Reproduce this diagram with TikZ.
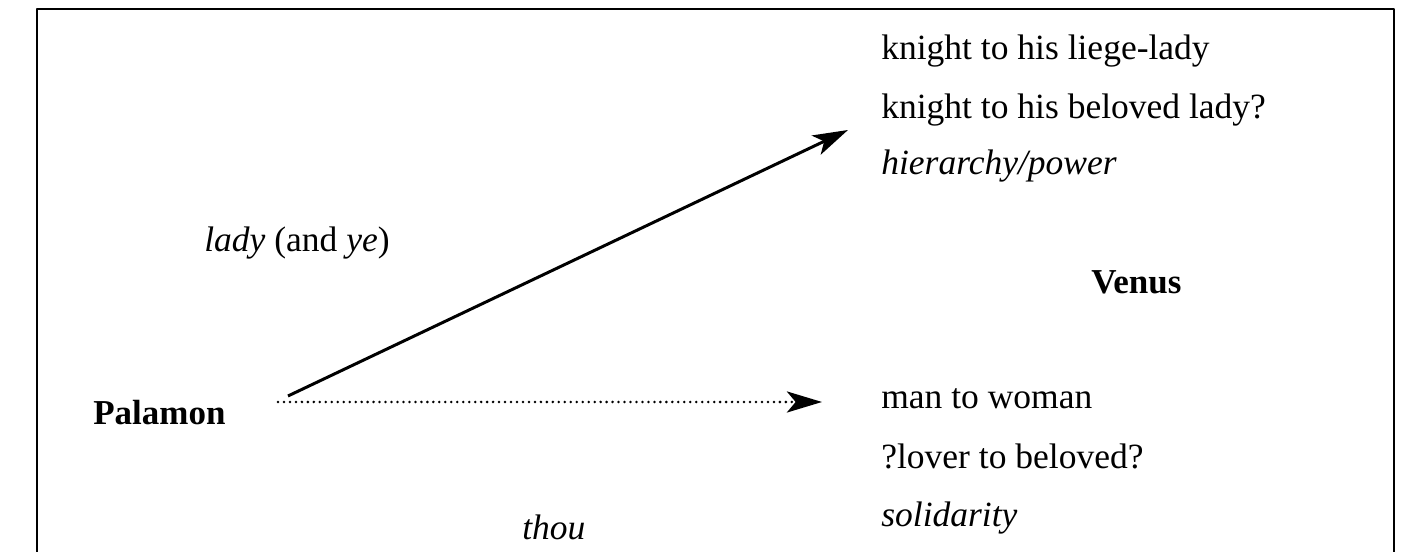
\documentclass[tikz,border=0pt]{standalone}
\usepackage{fontspec}
\setmainfont{Liberation Serif}
\usetikzlibrary{arrows.meta}

\begin{document}
\begin{tikzpicture}[>={Stealth[length=20pt,width=12pt,inset=5pt]}, line join=round,
	font=\fontsize{20.2}{24}\selectfont,
	txt/.style={anchor=base west, inner sep=0pt}]

\useasboundingbox (0,0) rectangle (28.14,11.04);

% ================= frame (open at the foot) =================
\draw[line width=1.15pt] (0.74,0) -- (0.74,10.85) -- (27.87,10.85) -- (27.87,0);

% ================= left side =================
\node[txt, font=\fontsize{19.9}{24}\selectfont\bfseries] (palamon) at (1.86,2.54) {Palamon};
\node[txt] (lady) at (4.08,6.00) {\textit{lady} (and \textit{ye})};
\node[txt] (thou) at (10.44,0.24) {\textit{thou}};

% ================= right side: upper group =================
\node[txt] (liege) at (17.62,9.84) {knight to his liege-lady};
\node[txt] (beloved) at (17.62,8.66) {knight to his beloved lady?};
\node[txt] (power) at (17.62,7.54) {\textit{hierarchy/power}};

\node[txt, font=\fontsize{19.9}{24}\selectfont\bfseries] (venus) at (21.82,5.16) {Venus};

% ================= right side: lower group =================
\node[txt] (woman) at (17.62,2.86) {man to woman};
\node[txt] (lover) at (17.62,1.66) {?lover to beloved?};
\node[txt] (solid) at (17.62,0.50) {\textit{solidarity}};

% arrow ends
\coordinate (up-from) at (5.76,3.12);
\coordinate (up-to) at (16.96,8.44);
\coordinate (low-from) at (5.56,3.00);
\coordinate (low-to) at (16.44,3.00);

\draw[->, line width=1.7pt] (up-from) -- (up-to);
\draw[->, line width=1.6pt, line cap=round, dash pattern=on 0pt off 3.4pt] (low-from) -- (low-to);

\end{tikzpicture}
\end{document}
